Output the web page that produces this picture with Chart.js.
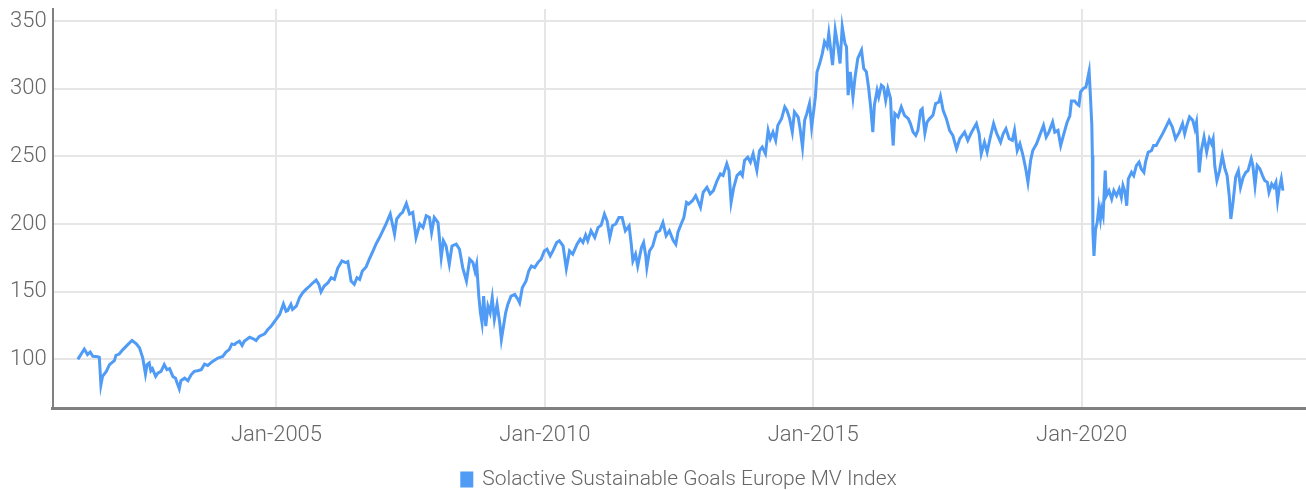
<!DOCTYPE html>
<html>
<head>
<meta charset="utf-8">
<script src="https://cdn.jsdelivr.net/npm/chart.js@4/dist/chart.umd.min.js"></script>
<style>
  html, body { margin: 0; padding: 0; background: #fff; }
  canvas { display: block; }
</style>
</head>
<body>
<canvas id="chart" width="1306" height="490"></canvas>
<script>
// index level; dates are decimal years
const dates = [
  2001.30, 2001.42, 2001.48, 2001.53, 2001.58, 2001.67, 2001.70, 2001.73, 2001.76, 2001.83, 2001.89, 2001.98,
  2002.01, 2002.07, 2002.14, 2002.23, 2002.31, 2002.39, 2002.45, 2002.51, 2002.56, 2002.59, 2002.63, 2002.66, 2002.69, 2002.75, 2002.79, 2002.85, 2002.91, 2002.96,
  2003.01, 2003.07, 2003.12, 2003.14, 2003.19, 2003.22, 2003.29, 2003.35, 2003.41, 2003.47, 2003.53, 2003.60, 2003.66, 2003.72, 2003.81, 2003.91,
  2004.00, 2004.06, 2004.12, 2004.17, 2004.22, 2004.25, 2004.31, 2004.36, 2004.40, 2004.50, 2004.56, 2004.62, 2004.68, 2004.78, 2004.84, 2004.90, 2004.99,
  2005.06, 2005.13, 2005.18, 2005.21, 2005.27, 2005.30, 2005.37, 2005.43, 2005.49, 2005.55, 2005.62, 2005.68, 2005.74, 2005.79, 2005.83, 2005.89, 2005.96,
  2006.02, 2006.08, 2006.14, 2006.22, 2006.29, 2006.33, 2006.36, 2006.39, 2006.45, 2006.50, 2006.55, 2006.60, 2006.67, 2006.73, 2006.80, 2006.86, 2006.92, 2006.98,
  2007.04, 2007.12, 2007.16, 2007.20, 2007.24, 2007.31, 2007.35, 2007.42, 2007.48, 2007.54, 2007.60, 2007.67, 2007.73, 2007.79, 2007.85, 2007.89, 2007.94,
  2008.01, 2008.07, 2008.11, 2008.16, 2008.22, 2008.27, 2008.35, 2008.41, 2008.47, 2008.54, 2008.60, 2008.66, 2008.70, 2008.73, 2008.77, 2008.80, 2008.83, 2008.86, 2008.90, 2008.94, 2008.98,
  2009.02, 2009.06, 2009.11, 2009.16, 2009.19, 2009.23, 2009.27, 2009.31, 2009.37, 2009.44, 2009.50, 2009.53, 2009.58, 2009.65, 2009.70, 2009.75, 2009.81, 2009.87, 2009.93, 2009.99,
  2010.04, 2010.10, 2010.15, 2010.22, 2010.27, 2010.34, 2010.40, 2010.46, 2010.52, 2010.60, 2010.66, 2010.71, 2010.76, 2010.80, 2010.86, 2010.93, 2010.99,
  2011.05, 2011.11, 2011.16, 2011.21, 2011.26, 2011.32, 2011.38, 2011.44, 2011.50, 2011.57, 2011.61, 2011.64, 2011.69, 2011.73, 2011.80, 2011.84, 2011.88, 2011.90, 2011.95,
  2012.01, 2012.08, 2012.14, 2012.20, 2012.26, 2012.32, 2012.39, 2012.44, 2012.48, 2012.54, 2012.59, 2012.64, 2012.68, 2012.75, 2012.81, 2012.85, 2012.90, 2012.95,
  2013.02, 2013.08, 2013.14, 2013.21, 2013.27, 2013.32, 2013.39, 2013.43, 2013.47, 2013.52, 2013.58, 2013.64, 2013.68, 2013.72, 2013.78, 2013.83, 2013.88, 2013.95,
  2014.00, 2014.05, 2014.11, 2014.16, 2014.20, 2014.25, 2014.30, 2014.34, 2014.41, 2014.47, 2014.51, 2014.56, 2014.61, 2014.65, 2014.72, 2014.76, 2014.80, 2014.84, 2014.88, 2014.93, 2014.97,
  2015.01, 2015.04, 2015.07, 2015.12, 2015.17, 2015.21, 2015.26, 2015.29, 2015.36, 2015.41, 2015.46, 2015.50, 2015.54, 2015.59, 2015.62, 2015.65, 2015.69, 2015.74, 2015.78, 2015.83, 2015.90, 2015.94, 2015.99,
  2016.03, 2016.07, 2016.11, 2016.14, 2016.19, 2016.22, 2016.27, 2016.31, 2016.35, 2016.39, 2016.44, 2016.46, 2016.49, 2016.52, 2016.58, 2016.64, 2016.70, 2016.77, 2016.81, 2016.86, 2016.91, 2016.95,
  2017.00, 2017.03, 2017.08, 2017.12, 2017.17, 2017.23, 2017.28, 2017.34, 2017.37, 2017.42, 2017.48, 2017.54, 2017.60, 2017.67, 2017.73, 2017.82, 2017.88, 2017.95,
  2018.04, 2018.09, 2018.13, 2018.19, 2018.24, 2018.30, 2018.36, 2018.42, 2018.49, 2018.54, 2018.59, 2018.65, 2018.71, 2018.75, 2018.80, 2018.85, 2018.90, 2018.94, 2018.97,
  2019.00, 2019.05, 2019.09, 2019.16, 2019.22, 2019.29, 2019.34, 2019.39, 2019.46, 2019.50, 2019.56, 2019.61, 2019.67, 2019.73, 2019.78, 2019.81, 2019.87, 2019.91, 2019.95, 2019.98,
  2020.03, 2020.08, 2020.10, 2020.14, 2020.16, 2020.19, 2020.20, 2020.21, 2020.23, 2020.26, 2020.29, 2020.32, 2020.35, 2020.37, 2020.40, 2020.44, 2020.46, 2020.51, 2020.56, 2020.60, 2020.65, 2020.70, 2020.74, 2020.77, 2020.81, 2020.84, 2020.87, 2020.93, 2020.97,
  2021.02, 2021.07, 2021.11, 2021.16, 2021.19, 2021.24, 2021.30, 2021.34, 2021.39, 2021.44, 2021.51, 2021.57, 2021.63, 2021.69, 2021.75, 2021.82, 2021.88, 2021.92, 2021.96,
  2022.01, 2022.07, 2022.11, 2022.14, 2022.17, 2022.19, 2022.23, 2022.28, 2022.33, 2022.38, 2022.42, 2022.45, 2022.48, 2022.52, 2022.57, 2022.62, 2022.67, 2022.71, 2022.75, 2022.78, 2022.82, 2022.87, 2022.92, 2022.96,
  2023.01, 2023.06, 2023.10, 2023.16, 2023.19, 2023.23, 2023.27, 2023.32, 2023.37, 2023.41, 2023.46, 2023.49, 2023.54, 2023.58, 2023.62, 2023.65, 2023.68, 2023.72, 2023.75
];

const values = [
  100, 107.6, 103.5, 105.4, 102.2, 102, 101.5, 81.2, 87.4, 91.1, 96.1, 99,
  103, 103.9, 107.2, 110.9, 113.9, 111.4, 108.4, 101, 89.1, 96.1, 97.3, 91.6, 93.1, 87.4, 89.8, 91.1, 96.1, 92.4,
  93.1, 87.4, 86.1, 83.7, 78.3, 84.2, 86.1, 84.2, 88.6, 91.1, 91.6, 92.4, 96.5, 95.5, 98.5, 101,
  102.2, 105.4, 107.2, 111.4, 110.9, 112.1, 113.4, 110.2, 113.4, 116.3, 115.4, 113.9, 117, 118.8, 122, 124.5, 129.4,
  133.2, 141, 135.6, 136.1, 140.6, 136.9, 139.3, 145.5, 149.2, 151.7, 154.2, 156.6, 158.6, 155.4, 149.9, 154.2, 156.6,
  160.3, 159.1, 167.3, 172.7, 171.5, 172.2, 165.3, 157.9, 155.4, 160.3, 159.1, 165.3, 168.3, 174, 180.1, 185.6, 190, 195,
  200, 207.4, 200, 192.5, 203.7, 207.4, 208.6, 215.2, 207.4, 208.6, 190, 200, 197.4, 206.1, 204.8, 193.7, 204.8,
  201.1, 175.2, 187.6, 183.8, 170.3, 183.8, 185.1, 181.4, 167.8, 157.9, 174, 171.5, 165, 170.3, 146.7, 134.4, 126.9, 146.7, 124.5, 139.3, 134.4,
  145.5, 129.5, 140.6, 126.9, 114.6, 124.5, 134.4, 140.6, 146.7, 148, 144.3, 141.8, 152.9, 157.9, 165.3, 169, 167.8, 171.5, 174, 180.1,
  181.4, 176.4, 180.1, 186.3, 187.6, 183.8, 167, 180.1, 177.7, 185.1, 188.8, 186.3, 191.8, 187.6, 195, 190, 197.4,
  199.2, 207.4, 202.4, 190, 198.7, 200, 204.8, 204.8, 195, 198.7, 185.1, 172.7, 177.7, 169, 182.6, 186.3, 176.4, 167.8, 180.1,
  183.8, 193.7, 195, 201.1, 191.3, 195, 188, 185, 194, 200, 204.8, 216, 214.8, 217.2, 220.9, 217.2, 212.3, 223.4,
  227.1, 222.2, 224.7, 232.1, 237, 235.8, 244.5, 239.5, 216, 227.1, 235.8, 238.2, 235.8, 246.9, 249.4, 245.7, 251.9, 239.5,
  254.3, 256.8, 251.9, 269.2, 263, 267.9, 261.8, 272.9, 277.9, 286.5, 284, 277.9, 267.9, 282.8, 279.1, 269.2, 256.8, 276.6, 281.6, 289, 271.6,
  284, 293.9, 312.4, 318.6, 326.1, 334.7, 331, 340.9, 317.4, 343.4, 331, 318.6, 345.9, 333.5, 331, 295.2, 312.4, 293.9, 308.8, 322.4, 328.6, 315, 312.4,
  301.3, 286.5, 267.9, 288, 298.9, 293.9, 302.6, 301.3, 291.4, 300.1, 292.7, 275.3, 258, 281.6, 279.1, 286.5, 280.3, 277.9, 274.2, 267.9, 265.5, 269.2,
  284, 285.2, 267.2, 275.3, 277.9, 280.3, 289, 290.2, 294.4, 284, 277.9, 269.2, 265.5, 255.6, 263, 267.9, 261.8, 267.9,
  274.2, 266.8, 251.9, 260.5, 253.1, 264.3, 274.2, 266.8, 260.5, 266.8, 270.4, 263, 261.8, 269.2, 254.3, 259.3, 251.9, 244.5, 238.2,
  230.8, 246.9, 254.3, 259.3, 265.5, 272.9, 264.3, 267.9, 275.3, 267.9, 269.2, 258, 266.8, 275.3, 280, 291, 291, 289, 287.7, 297.6,
  300.1, 301.3, 305, 312.9, 297.6, 272.9, 250.6, 193.7, 176.4, 196.2, 201.1, 212.3, 203.7, 211.1, 206.1, 239.5, 220.9, 224.7, 218.5, 224.7, 220.9, 225.9, 219.7, 228.4, 223.4, 213.5, 233.3, 238.2, 235.8,
  243.2, 245.7, 240.8, 238.2, 245.7, 253.1, 254.3, 258, 258, 261.8, 266.8, 271.6, 276.6, 271.6, 263, 267.9, 274.2, 266.8, 272.9,
  279.1, 276.6, 270.4, 275.3, 255.6, 238.2, 254.3, 264.3, 253.1, 263, 259.3, 263, 243.2, 232.1, 239.5, 250.6, 240.8, 235.8, 220.9, 203.7, 216, 234.6, 239.5, 227.1,
  234.6, 238.2, 239.5, 248.2, 243.2, 228.4, 243.2, 240.8, 235.8, 232.1, 230.8, 223.4, 229.6, 227.1, 230.8, 217.2, 225.9, 233.3, 224.7
];

const seriesName = 'Solactive Sustainable Goals Europe MV Index';
const xTicks = [2005, 2010, 2015, 2020];
const yTicks = [100, 150, 200, 250, 300, 350];

const blue = '#4f9bf5';
const textColor = '#666666';
const fontFamily = "Roboto, 'DejaVu Sans Condensed', sans-serif";

const points = dates.map((d, i) => ({x: d, y: values[i]}));

new Chart(document.getElementById('chart'), {
  type: 'line',
  data: {
    datasets: [{
      label: seriesName,
      data: points,
      borderColor: blue,
      backgroundColor: blue,
      borderWidth: 3,
      pointRadius: 0,
      tension: 0
    }]
  },
  options: {
    responsive: false,
    animation: false,
    layout: {padding: {left: 4, right: 0, top: 9, bottom: -10}},
    scales: {
      x: {
        type: 'linear',
        min: 2000.83,
        max: 2024.18,
        afterBuildTicks: (scale) => { scale.ticks = xTicks.map(v => ({value: v})); },
        ticks: {
          callback: (v) => 'Jan-' + v,
          color: textColor,
          font: {family: fontFamily, size: 22, weight: 300},
          padding: 14,
          maxRotation: 0,
          autoSkip: false
        },
        grid: {color: '#e6e6e6', lineWidth: 2, drawTicks: false},
        border: {color: '#808080', width: 3}
      },
      y: {
        min: 63.6,
        max: 358.9,
        afterBuildTicks: (scale) => { scale.ticks = yTicks.map(v => ({value: v})); },
        afterFit: (scale) => { scale.paddingTop = 0; scale.paddingBottom = 0; },
        ticks: {
          color: textColor,
          font: {family: fontFamily, size: 22, weight: 300},
          padding: 6
        },
        grid: {color: '#e6e6e6', lineWidth: 2, drawTicks: false},
        border: {color: '#808080', width: 2}
      }
    },
    plugins: {
      legend: {
        position: 'bottom',
        fullSize: false,
        labels: {
          boxWidth: 10,
          boxHeight: 13,
          color: textColor,
          font: {family: fontFamily, size: 21, weight: 300},
          padding: 6
        }
      },
      tooltip: {enabled: false}
    }
  }
});
</script>
</body>
</html>
